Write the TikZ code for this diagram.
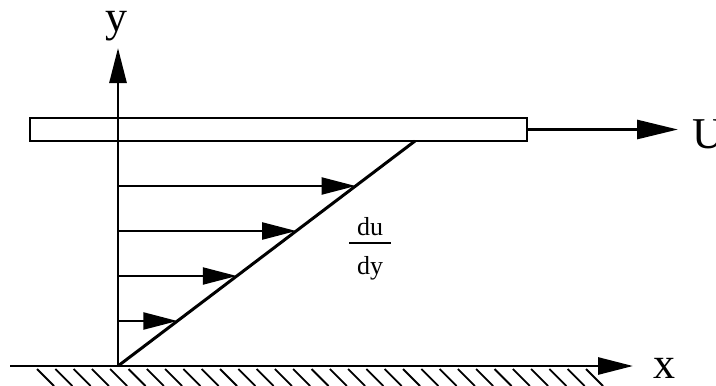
\documentclass[tikz,border=0pt]{standalone}
\usepackage{amsmath}
\usepackage{fontspec}
\setmainfont{Liberation Serif}
\usepackage{tikz}
\usetikzlibrary{arrows.meta, positioning, calc}
\tikzstyle{axis} = [line width=2.8pt, -{Triangle[length=35pt, width=17pt]}]
\tikzstyle{plate} = [draw, line width=2.4pt, minimum width=497pt, minimum height=23pt, inner sep=0pt]
\tikzstyle{velocity} = [line width=2.2pt, -{Triangle[length=34pt, width=17pt]}]
\tikzstyle{profile} = [line width=3pt]
\tikzstyle{hatch} = [line width=1.8pt]
\tikzstyle{bigtext} = [font=\fontsize{44}{50}\selectfont, inner sep=0pt]

\begin{document}
\begin{tikzpicture}[x=1pt, y=-1pt]
    \useasboundingbox (0,0) rectangle (716,386);
    \coordinate (O) at (118,366);
    \coordinate (ytip) at (118,48);
    \coordinate (xstart) at (10,366);
    \coordinate (xtip) at (633,366);
    \node[plate] (plate) at (278.5,129.5) {};
    \coordinate (top) at (415,141);
    \coordinate (Utip) at (678,129.5);

    \draw[axis] (O) -- (ytip);
    \draw[axis] (xstart) -- (xtip);
    \draw[axis, -{Triangle[length=41pt, width=19pt]}] (plate.east) -- (Utip);

    \draw[profile] (O) -- (top);
    \foreach \t/\n in {0.2/a, 0.4/b, 0.6/c, 0.8/d} {
        \coordinate (v\n) at ($(O)!\t!(top)$);
        \draw[velocity] (O |- v\n) -- (v\n);
    }

    \foreach \i in {0,...,30}
        \draw[hatch] (37+18.3*\i,369) -- ++(17,17);

    \node[bigtext, anchor=base] (ylab) at (116,31) {y};
    \node[bigtext, anchor=base] (xlab) at (664,378) {x};
    \node[bigtext, anchor=base west] (Ulab) at (692,148) {U};
    \node[font=\fontsize{26}{27}\selectfont, inner sep=0pt] (slope) at (370,250)
        {\setlength{\arrayrulewidth}{1.8pt}\begin{tabular}{@{\hspace{8pt}}c@{\hspace{8pt}}}du\\[-2pt]\hline \rule{0pt}{31pt}dy\end{tabular}};
\end{tikzpicture}
\end{document}
